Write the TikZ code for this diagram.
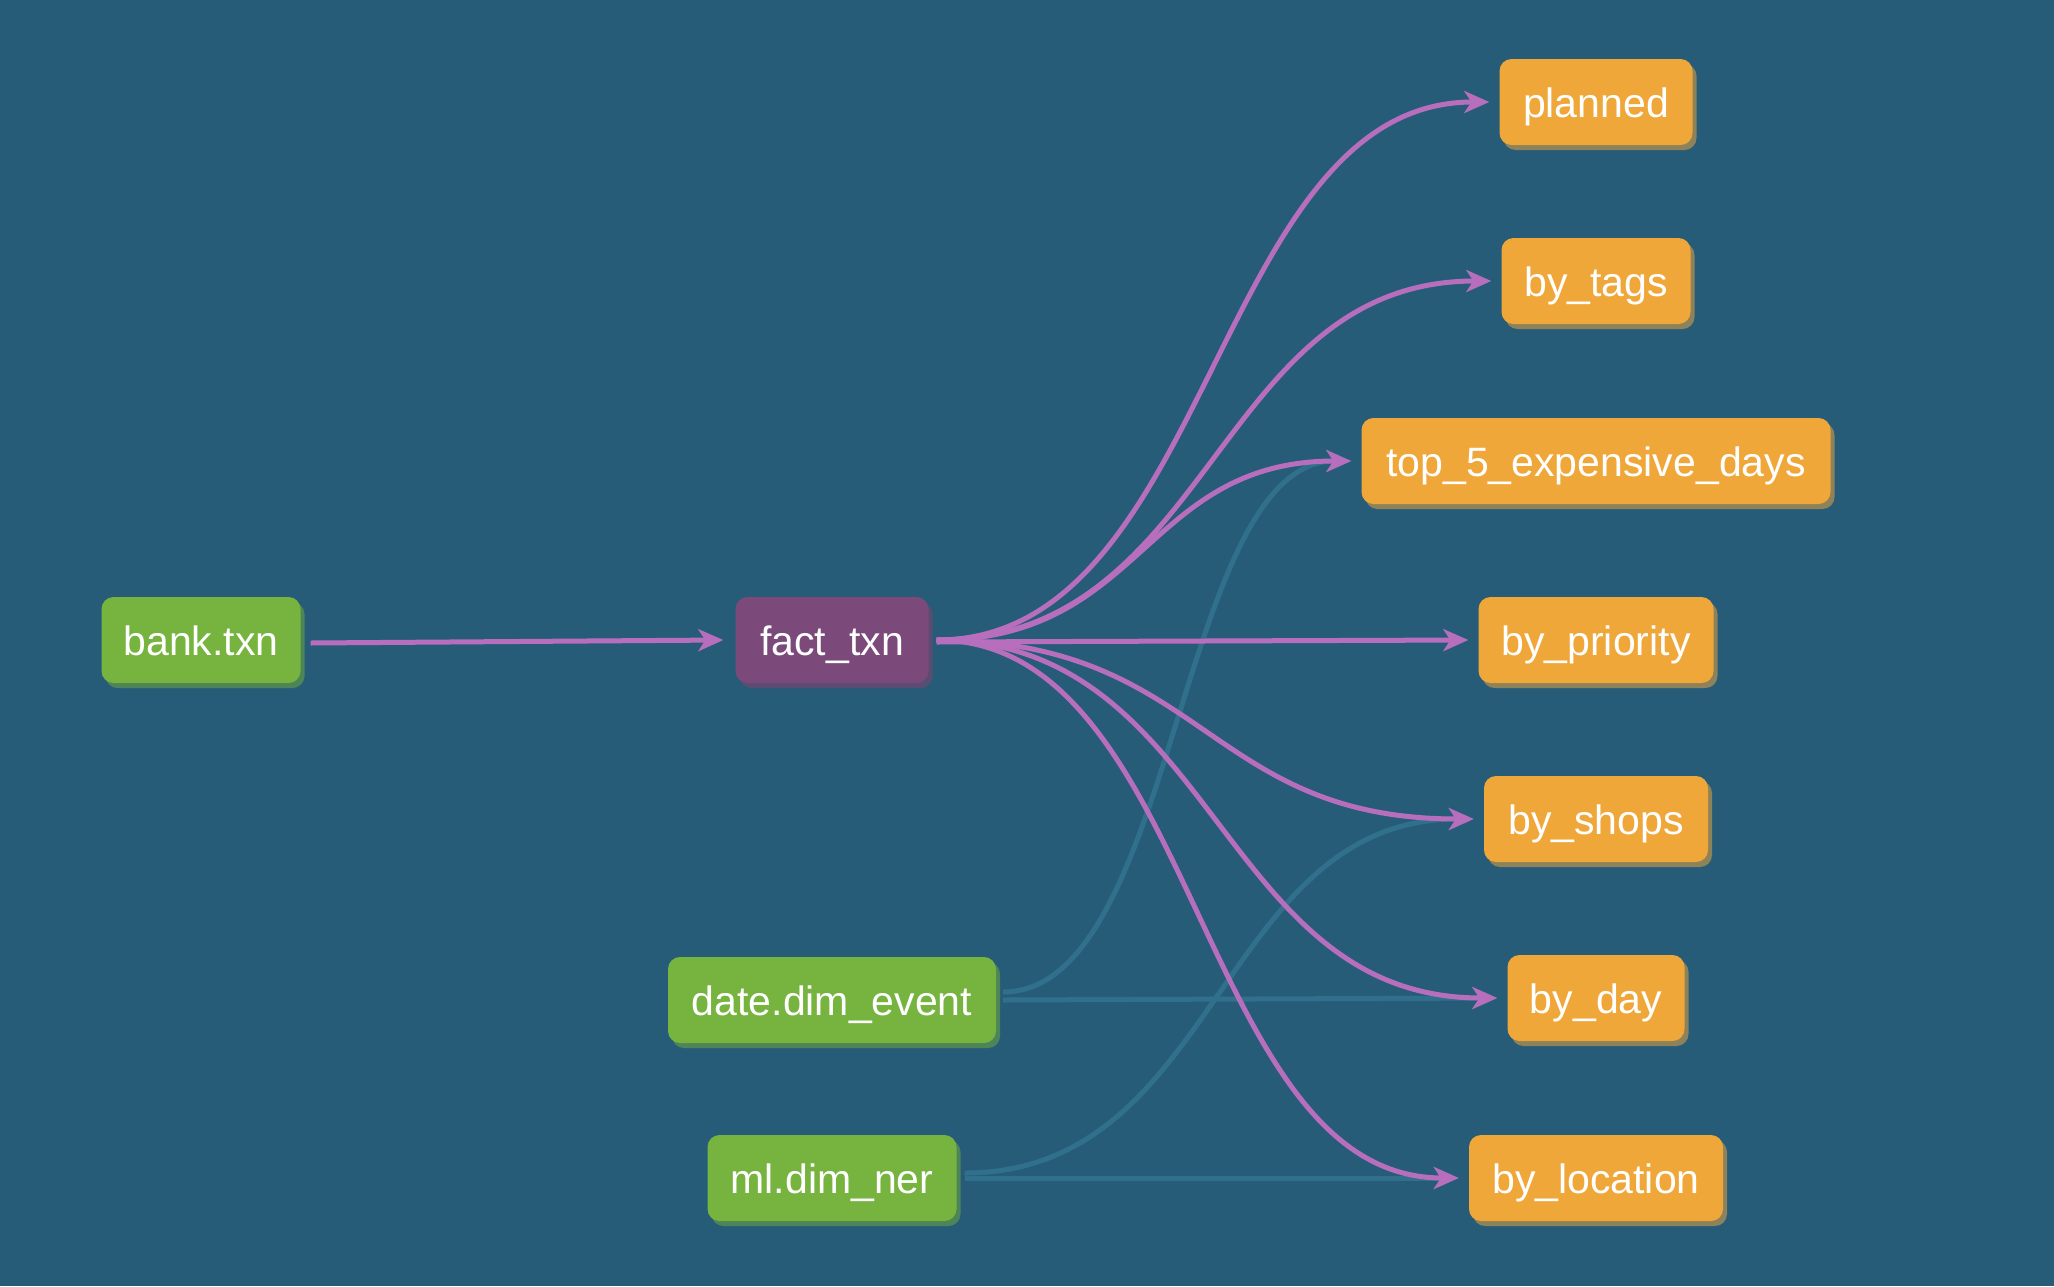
\documentclass[tikz,border=0pt]{standalone}
\usepackage{fontspec}
\setmainfont{Liberation Sans}
\usetikzlibrary{arrows.meta,shadows}
\definecolor{bg}{RGB}{39,92,120}
\definecolor{gfill}{RGB}{118,180,63}
\definecolor{gsh}{RGB}{78,133,88}
\definecolor{pfill}{RGB}{123,74,123}
\definecolor{psh}{RGB}{90,76,114}
\definecolor{ofill}{RGB}{240,167,58}
\definecolor{osh}{RGB}{141,130,89}
\definecolor{edgep}{RGB}{183,110,188}
\definecolor{edgef}{RGB}{49,112,140}
\begin{document}
\begin{tikzpicture}[x=1pt,y=-1pt,
  basebox/.style={rounded corners=12pt, minimum height=86pt, inner sep=0pt, text=white,
    text height=39pt, text depth=9pt,
    font=\fontsize{41}{48}\selectfont},
  srcbox/.style={basebox, fill=gfill, general shadow={fill=gsh, shadow xshift=4pt, shadow yshift=-5pt}},
  factbox/.style={basebox, fill=pfill, general shadow={fill=psh, shadow xshift=4pt, shadow yshift=-5pt}},
  outbox/.style={basebox, fill=ofill, general shadow={fill=osh, shadow xshift=4pt, shadow yshift=-5pt}},
  pedge/.style={draw=edgep, line width=5pt, -{Stealth[length=25pt,width=22pt,inset=7pt]}},
  fedge/.style={draw=edgef, line width=5pt, -{Stealth[length=25pt,width=22pt,inset=7pt]}}
]
\fill[bg] (0,0) rectangle (2054,1286);
\useasboundingbox (0,0) rectangle (2054,1286);

% nodes
\node[srcbox, minimum width=199pt] (bank) at (201,640) {bank.txn};
\node[factbox, minimum width=193pt] (fact) at (832,640) {fact\_txn};
\node[srcbox, minimum width=328pt] (date) at (832,1000) {date.dim\_event};
\node[srcbox, minimum width=249pt] (ml) at (832,1178) {ml.dim\_ner};

\node[outbox, minimum width=193pt] (planned) at (1596,102) {planned};
\node[outbox, minimum width=189pt] (bytags) at (1596,281) {by\_tags};
\node[outbox, minimum width=469pt] (top5) at (1596,461) {top\_5\_expensive\_days};
\node[outbox, minimum width=235pt] (byprio) at (1596,640) {by\_priority};
\node[outbox, minimum width=224pt] (byshops) at (1596,819) {by\_shops};
\node[outbox, minimum width=177pt] (byday) at (1596,998) {by\_day};
\node[outbox, minimum width=254pt] (byloc) at (1596,1178) {by\_location};

% faint edges
\draw[fedge] ([xshift=7pt,yshift=8pt]date.east) .. controls +(174,0) and +(-174,0) .. ([xshift=-10pt]top5.west);
\draw[fedge] ([xshift=7pt]date.east) -- ([xshift=-10pt]byday.west);
\draw[fedge] ([xshift=8pt,yshift=5pt]ml.east) .. controls +(255,0) and +(-255,0) .. ([xshift=-10pt]byshops.west);
\draw[fedge] ([xshift=8pt]ml.east) -- ([xshift=-10pt]byloc.west);

% purple edges
\coordinate (fs) at ([xshift=8pt]fact.east);
\draw[pedge] ([xshift=10pt,yshift=-3pt]bank.east) -- ([xshift=-12pt]fact.west);
\draw[pedge] (fs) .. controls +(276,0) and +(-276,0) .. ([xshift=-10pt]planned.west);
\draw[pedge] (fs) .. controls +(277,0) and +(-277,0) .. ([xshift=-10pt]bytags.west);
\draw[pedge] (fs) .. controls +(207,0) and +(-207,0) .. ([xshift=-10pt]top5.west);
\draw[pedge] ([yshift=-2pt]fs) -- ([xshift=-10pt]byprio.west);
\draw[pedge] (fs) .. controls +(268,0) and +(-268,0) .. ([xshift=-10pt]byshops.west);
\draw[pedge] (fs) .. controls +(280,0) and +(-280,0) .. ([xshift=-10pt]byday.west);
\draw[pedge] (fs) .. controls +(261,0) and +(-261,0) .. ([xshift=-10pt]byloc.west);
\end{tikzpicture}
\end{document}
